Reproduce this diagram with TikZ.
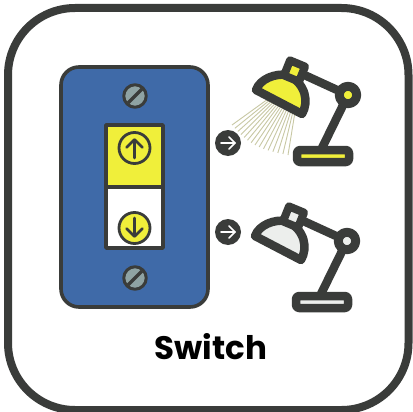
\documentclass[tikz,border=0pt]{standalone}
\usepackage{xcolor}
\usepackage{fontspec}
\setmainfont{Poppins}
\usetikzlibrary{calc,arrows.meta}
\definecolor{ink}{HTML}{3A3C3A}
\definecolor{plateblue}{HTML}{3F6AA8}
\definecolor{lit}{HTML}{F0EF3A}
\definecolor{unlit}{HTML}{ECEEEC}
\definecolor{screwgrey}{HTML}{8FA3A3}
\definecolor{ray}{HTML}{C8C8A4}

\begin{document}
\begin{tikzpicture}[
  x=1pt, y=-1pt,
  line join=round,
  outline/.style={draw=ink, line width=3.6pt},
  screwhead/.style={circle, draw=ink, line width=3pt, fill=screwgrey, minimum size=22.5pt, inner sep=0pt},
  dial/.style={circle, draw=ink, line width=2.8pt, minimum size=31pt, inner sep=0pt},
  tag/.style={circle, fill=ink, minimum size=26pt, inner sep=0pt},
  arr/.style={line width=#1, line cap=round},
  pics/lamp/.style={code={
    \draw[ink, line width=8.5pt, line cap=round] (300,73) -- (348,95) -- (322,148);
    \draw[outline, line width=8.5pt, fill=#1] (256,90) .. controls (260,79) and (275,73) .. (288,75)
      .. controls (306,84) and (309,102) .. (302,114) -- cycle;
    \draw[outline, line width=8pt, fill=#1] (290,60.4) -- (305,66.6) -- (299,81.6) -- (284,75.4) -- cycle;
    \draw[outline, line width=9pt, fill=#1] (348,95) circle (8.7pt);
    \draw[outline, line width=8.5pt, fill=#1, rounded corners=3pt] (297,162) -- (297,150) -- (349,150) -- (349,162) -- cycle;
  }}
]
\useasboundingbox (0,0) rectangle (412,412);
\fill[white] (0,0) rectangle (412,412);
\draw[outline, line width=8pt, rounded corners=67pt] (8,8) rectangle (408.5,410);

% switch plate
\draw[outline, fill=plateblue, rounded corners=18pt] (61,67) rectangle (208,307);
\node[screwhead] (screwtop) at (135,96) {};
\node[screwhead] (screwbot) at (135,278) {};
\draw[ink, line width=3.5pt] ($(screwtop)+(-7,7)$) -- ($(screwtop)+(7,-7)$);
\draw[ink, line width=3.5pt] ($(screwbot)+(-7,7)$) -- ($(screwbot)+(7,-7)$);

% rocker
\draw[outline, fill=lit] (106,125) rectangle (163,187);
\draw[outline, fill=white] (106,187) rectangle (163,248);
\node[dial] (up) at (134.5,148) {};
\node[dial, fill=lit] (down) at (134.5,228) {};
\draw[ink, arr=2.8pt] (134.5,158) -- (134.5,140);
\draw[ink, arr=2.8pt] (126.5,147.5) -- (134.5,139.5) -- (142.5,147.5);
\draw[ink, arr=2.8pt] (134.5,218) -- (134.5,236);
\draw[ink, arr=2.8pt] (126.5,228.5) -- (134.5,236.5) -- (142.5,228.5);

% light
\foreach \i in {0,...,14}{
  \pgfmathsetmacro{\t}{\i/14}
  \pgfmathsetmacro{\bulge}{5*sin(180*\t)}
  \draw[ray, line width=0.9pt] ($(268,99)!\t!(295,112)$) -- ($(232,125)!\t!(288,155)+(-\bulge,\bulge)$);
}
\pic {lamp=lit};
\pic at (-1,146) {lamp=unlit};

% state arrows
\node[tag] (tagon) at (228,143) {};
\node[tag] (tagoff) at (228,232) {};
\draw[white, arr=1.6pt] ($(tagon)+(-7,0)$) -- ($(tagon)+(7,0)$);
\draw[white, arr=1.6pt] ($(tagon)+(1,-6)$) -- ($(tagon)+(7,0)$) -- ($(tagon)+(1,6)$);
\draw[white, arr=1.6pt] ($(tagoff)+(-7,0)$) -- ($(tagoff)+(7,0)$);
\draw[white, arr=1.6pt] ($(tagoff)+(1,-6)$) -- ($(tagoff)+(7,0)$) -- ($(tagoff)+(1,6)$);

\node[font=\fontsize{32.5}{32.5}\selectfont\bfseries, text=black] (title) at (211,347) {Switch};
\end{tikzpicture}
\end{document}
